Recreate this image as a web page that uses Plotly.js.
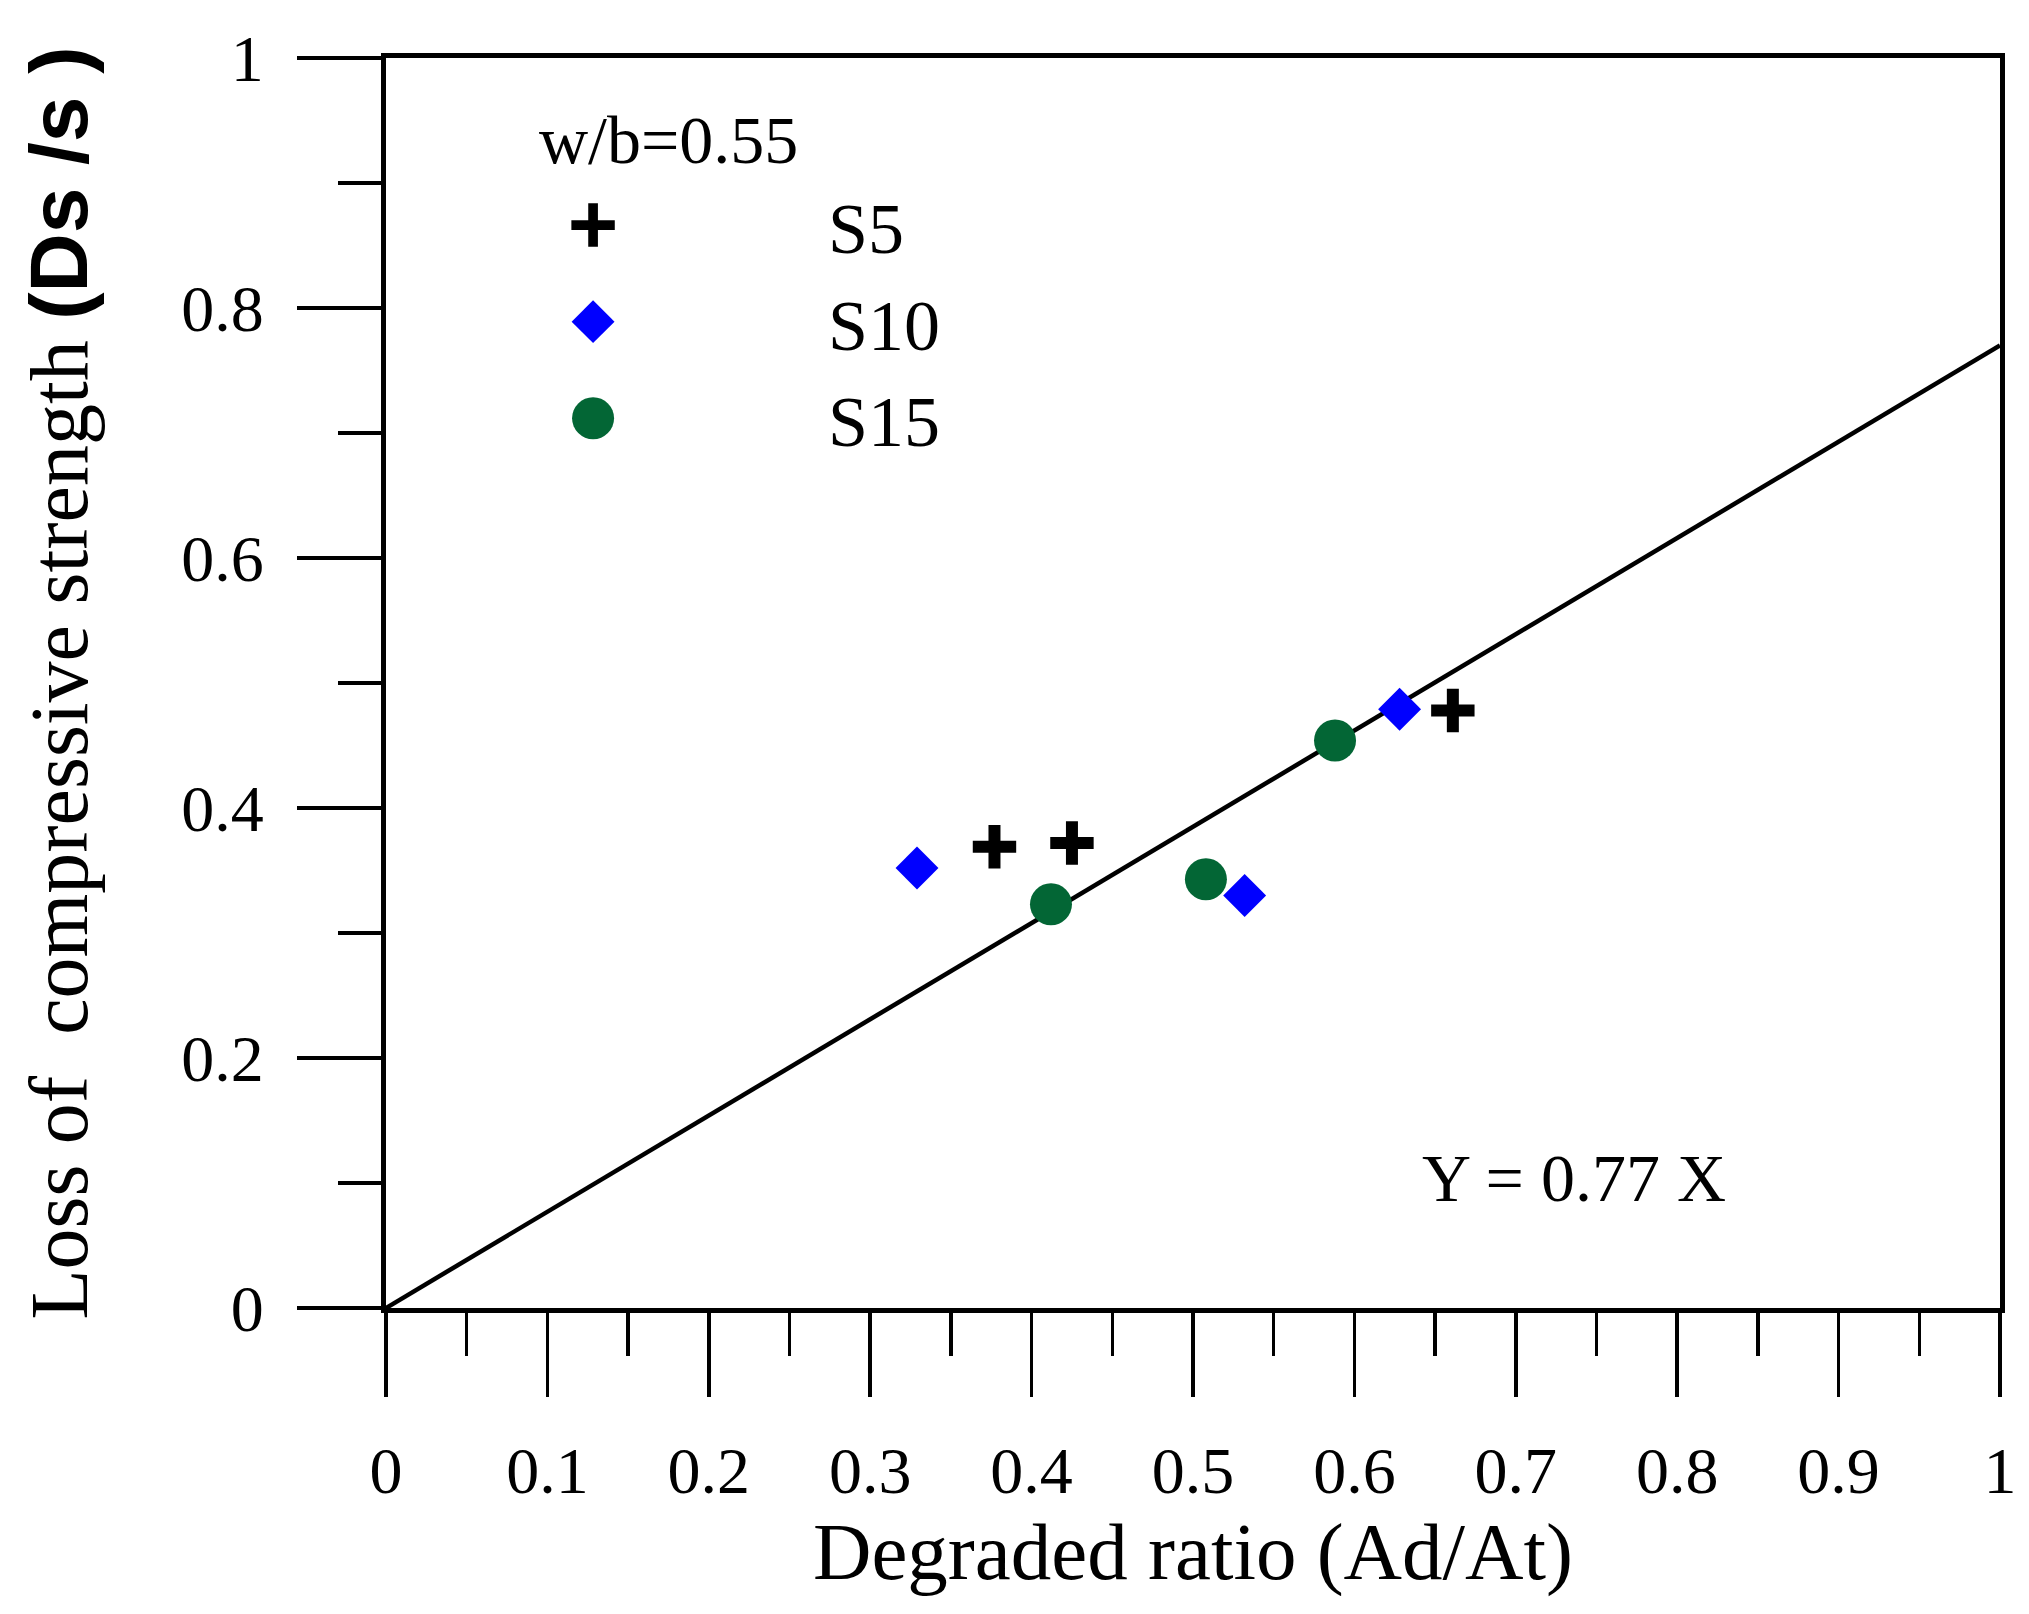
<!DOCTYPE html>
<html>
<head>
<meta charset="utf-8">
<script src="https://cdn.plot.ly/plotly-3.0.1.min.js"></script>
<style>
  body { margin: 0; background: #fff; }
  #chart { width: 2029px; height: 1614px; }
</style>
</head>
<body>
<div id="chart"></div>
<script>
// measured points, w/b = 0.55
var s5X  = [0.377, 0.425, 0.661];
var s5Y  = [0.369, 0.372, 0.478];
var s10X = [0.329, 0.532, 0.628];
var s10Y = [0.352, 0.330, 0.479];
var s15X = [0.412, 0.508, 0.588];
var s15Y = [0.323, 0.343, 0.454];

// fitted line Y = 0.77 X
var fitX = [0, 1];
var fitY = [0, 0.77];

var xTicks = [0, 0.1, 0.2, 0.3, 0.4, 0.5, 0.6, 0.7, 0.8, 0.9, 1];
var xTickText = ['0', '0.1', '0.2', '0.3', '0.4', '0.5', '0.6', '0.7', '0.8', '0.9', '1'];
var yTicks = [0, 0.2, 0.4, 0.6, 0.8, 1];
var yTickText = ['0', '0.2', '0.4', '0.6', '0.8', '1'];

var serif = 'Liberation Serif, Times New Roman, serif';

var fit = {
    x: fitX, y: fitY,
    mode: 'lines',
    line: {color: '#000', width: 4.5},
    showlegend: false,
    hoverinfo: 'skip'
};

var trace1 = {
    x: s5X, y: s5Y,
    name: 'S5',
    mode: 'markers',
    marker: {symbol: 'cross-thin-open', size: 31, color: '#000', line: {color: '#000', width: 12}}
};

var trace2 = {
    x: s10X, y: s10Y,
    name: 'S10',
    mode: 'markers',
    marker: {symbol: 'diamond', size: 33, color: '#0000ff'}
};

var trace3 = {
    x: s15X, y: s15Y,
    name: 'S15',
    mode: 'markers',
    marker: {symbol: 'circle', size: 42, color: '#036635'}
};

var data = [fit, trace1, trace2, trace3];

var axisCommon = {
    range: [0, 1],
    showgrid: false,
    zeroline: false,
    showline: true,
    mirror: true,
    linecolor: '#000',
    linewidth: 5,
    ticks: 'outside',
    ticklen: 84,
    tickwidth: 3.5,
    tickcolor: '#000',
    tickfont: {family: serif, size: 66, color: '#000'},
    automargin: false
};

var layout = {
    width: 2029,
    height: 1614,
    margin: {l: 386, r: 29, t: 58, b: 306},
    paper_bgcolor: '#fff',
    plot_bgcolor: '#fff',
    font: {family: serif, color: '#000'},
    xaxis: Object.assign({}, axisCommon, {
        tickmode: 'array',
        tickvals: xTicks,
        ticktext: xTickText,
        minor: {dtick: 0.05, tick0: 0, ticks: 'outside', ticklen: 43, tickwidth: 3.5, tickcolor: '#000', showgrid: false},
        ticklabelstandoff: 17,
        title: {text: 'Degraded ratio (Ad/At)', font: {family: serif, size: 81, color: '#000'}, standoff: 8}
    }),
    yaxis: Object.assign({}, axisCommon, {
        tickmode: 'array',
        tickvals: yTicks,
        ticktext: yTickText,
        minor: {dtick: 0.1, tick0: 0, ticks: 'outside', ticklen: 43, tickwidth: 3.5, tickcolor: '#000', showgrid: false},
        ticklabelstandoff: 20,
        title: {
            text: 'Loss of\u00a0\u00a0compressive strength <span style="font-family:Liberation Sans, Arial, sans-serif;font-weight:bold">(Ds\u00a0/s\u00a0)</span>',
            font: {family: serif, size: 82, color: '#000'},
            standoff: 68
        }
    }),
    showlegend: true,
    legend: {
        x: -0.0173, xanchor: 'left',
        y: 0.909, yanchor: 'top',
        itemwidth: 460,
        font: {family: serif, size: 72, color: '#000'},
        bgcolor: 'rgba(0,0,0,0)',
        traceorder: 'normal'
    },
    annotations: [
        {xref: 'paper', yref: 'paper', x: 0.0936, y: 0.9344, xanchor: 'left', yanchor: 'middle',
         text: 'w/b=0.55', showarrow: false, font: {family: serif, size: 68, color: '#000'}},
        {xref: 'paper', yref: 'paper', x: 0.736, y: 0.104, xanchor: 'center', yanchor: 'middle',
         text: 'Y = 0.77 X', showarrow: false, font: {family: serif, size: 68, color: '#000'}}
    ]
};

Plotly.newPlot('chart', data, layout, {staticPlot: true}).then(function(gd) {
    // legend symbols are capped at 16px by plotly, scale them up to the trace size
    var sizes = [trace1.marker.size, trace2.marker.size, trace3.marker.size];
    var items = gd.querySelectorAll('.legend .traces');
    items.forEach(function(item, i) {
        var pt = item.querySelector('path.scatterpts');
        if (!pt || sizes[i] === undefined) return;
        var k = sizes[i] / 16;
        pt.setAttribute('transform', (pt.getAttribute('transform') || '') + ' scale(' + k + ')');
    });
});
</script>
</body>
</html>
